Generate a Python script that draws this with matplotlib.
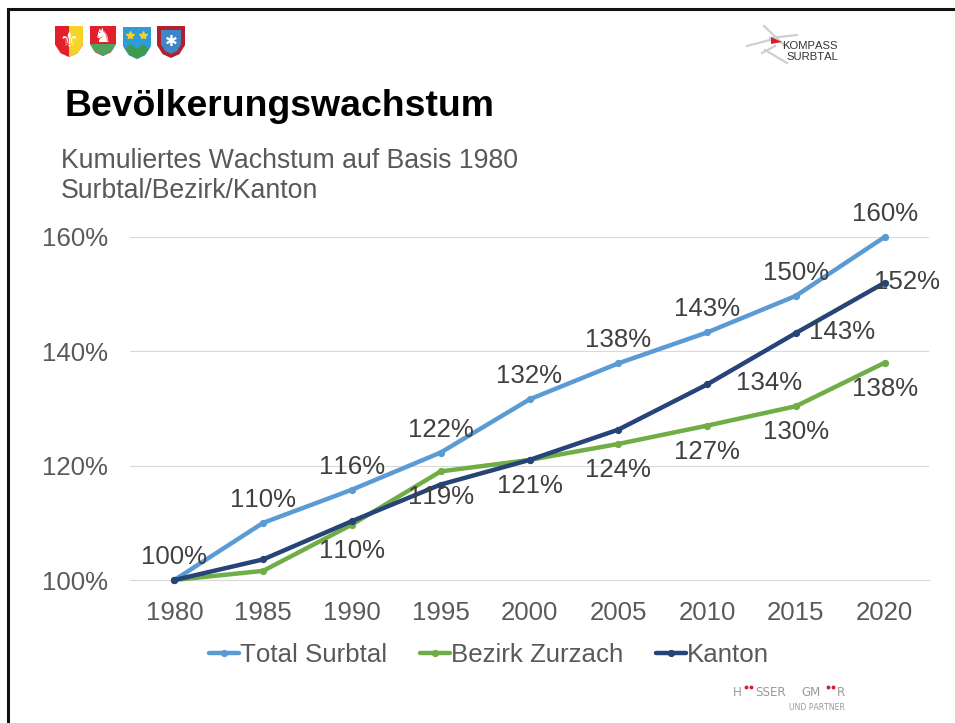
import matplotlib
matplotlib.use("Agg")
import matplotlib.pyplot as plt
from matplotlib.patches import Polygon

plt.rcParams['font.family'] = ['Liberation Sans', 'DejaVu Sans']
plt.rcParams['text.kerning_factor'] = 6

years = ["1980", "1985", "1990", "1995", "2000", "2005", "2010", "2015", "2020"]
total_surbtal = [100, 110, 115.8, 122.3, 131.6, 137.9, 143.3, 149.7, 160]
bezirk_zurzach = [100, 101.6, 109.7, 119, 121, 123.8, 127, 130.4, 138]
kanton = [100, 103.6, 110.3, 116.7, 121, 126.3, 134.2, 143.2, 152]

total_labels = ["100%", "110%", "116%", "122%", "132%", "138%", "143%", "150%", "160%"]
bezirk_labels = ["", "", "110%", "119%", "121%", "124%", "127%", "130%", "138%"]
kanton_labels = ["", "", "", "", "", "", "134%", "143%", "152%"]
y_ticks = [100, 120, 140, 160]

W, H = 955, 723
GREY = "#595959"
LABEL = "#404040"
BLUE = "#5B9BD5"
GREEN = "#70AD47"
NAVY = "#264478"
FS = 18.6


def add_axes_px(fig, left, top, right, bottom):
    return fig.add_axes([left / W, 1 - bottom / H, (right - left) / W, (bottom - top) / H])


def shield(bg, x0, y0, w, h, color):
    pts = [(x0, y0), (x0 + w, y0), (x0 + w, y0 + h * 0.6), (x0 + w * 0.8, y0 + h * 0.88),
           (x0 + w * 0.5, y0 + h), (x0 + w * 0.2, y0 + h * 0.88), (x0, y0 + h * 0.6)]
    bg.add_patch(Polygon(pts, closed=True, facecolor=color, edgecolor="none"))


fig = plt.figure(figsize=(W / 100, H / 100), dpi=100, facecolor="white")

# background layer in pixel coordinates: frame, logos, texts
bg = fig.add_axes([0, 0, 1, 1])
bg.set_xlim(0, W)
bg.set_ylim(H, 0)
bg.axis("off")
bg.plot([8, 8, W], [H, 9, 9], color="#111111", lw=2.2, solid_joinstyle="miter")

# coats of arms
shield(bg, 55, 26, 28, 31, "#E2202C")
bg.add_patch(Polygon([(69, 26), (83, 26), (83, 44), (78, 53), (69, 57)], facecolor="#F5D327"))
bg.text(69, 41, "⚜", color="white", fontsize=15, ha="center", va="center", family="DejaVu Sans")
shield(bg, 90, 26, 26, 30, "#E2202C")
bg.add_patch(Polygon([(90, 44), (116, 44), (112, 51), (103, 56), (94, 51)], facecolor="#4FA35E"))
bg.text(103, 36, "♞", color="white", fontsize=14, ha="center", va="center", family="DejaVu Sans")
shield(bg, 123, 27, 28, 32, "#2F9BD8")
bg.add_patch(Polygon([(125, 49), (131, 44), (137, 49), (143, 44), (149, 49), (144, 55), (137, 59), (130, 55)],
                     facecolor="#3F9A4C"))
bg.plot([130, 143], [35, 35], ls="none", marker="*", ms=6, color="#F5D327")
shield(bg, 157, 26, 28, 32, "#B21F2D")
shield(bg, 161, 30, 20, 24, "#3F86C6")
bg.text(171, 41, "✱", color="white", fontsize=11, ha="center", va="center", family="DejaVu Sans")

# Kompass logo
for seg in [((747, 46), (770, 40)), ((764, 26), (785, 46)), ((765, 50), (787, 63)),
            ((770, 38), (797, 35)), ((762, 53), (775, 46))]:
    bg.plot([seg[0][0], seg[1][0]], [seg[0][1], seg[1][1]], color="#CFCFCF", lw=1.6, zorder=1)
bg.add_patch(Polygon([(771, 37), (782, 42), (771, 44)], facecolor="#D5202E", zorder=2))
bg.text(782, 46, "KOMPASS", fontsize=8.1, color="#333333", ha="left", va="center", zorder=3)
bg.text(786, 57, "SURBTAL", fontsize=8.1, color="#333333", ha="left", va="center", zorder=3)

bg.text(64.5, 106, "Bevölkerungswachstum", fontsize=26.9, fontweight="bold", color="black",
        ha="left", va="center")
bg.text(61, 161, "Kumuliertes Wachstum auf Basis 1980", fontsize=19.2, color=GREY, ha="left", va="center")
bg.text(61, 191, "Surbtal/Bezirk/Kanton", fontsize=19.2, color=GREY, ha="left", va="center")

# Hässer Gmür logo
for txt, xp in [("H", 733), ("SSER", 755), ("GM", 801), ("R", 837)]:
    bg.text(xp, 692, txt, fontsize=8.6, color="#9A9A9A", ha="left", va="center", family="DejaVu Sans")
bg.plot([746, 751, 828, 833], [687, 687, 687, 687], ls="none", marker="o", ms=1.8, color="#D5202E")
bg.text(845, 708, "UND PARTNER", fontsize=5.6, color="#9A9A9A", ha="right", va="center", family="DejaVu Sans")

# chart
ax = add_axes_px(fig, 130, 237, 929, 580)
ax.patch.set_alpha(0)
x = list(range(len(years)))
series = [
    (total_surbtal, BLUE, "Total Surbtal"),
    (bezirk_zurzach, GREEN, "Bezirk Zurzach"),
    (kanton, NAVY, "Kanton"),
]
for vals, col, name in series:
    ax.plot(x, vals, color=col, lw=3.2, marker="o", ms=4.2, label=name, solid_capstyle="round", clip_on=False, zorder=3)

ax.set_xlim(-0.5, 8.5)
ax.set_ylim(100, 160)
ax.set_xticks(x, years)
ax.set_yticks(y_ticks, [f"{v}%" for v in y_ticks])
ax.tick_params(length=0, labelsize=FS, labelcolor=GREY)
ax.tick_params(axis="x", pad=15)
ax.tick_params(axis="y", pad=16)
ax.yaxis.grid(True, color="#D9D9D9", lw=0.8)
ax.set_axisbelow(True)
for s in ["top", "right", "left"]:
    ax.spines[s].set_visible(False)
ax.spines["bottom"].set_color("#D9D9D9")
ax.spines["bottom"].set_linewidth(0.8)


def put_labels(vals, labels, dx_px, dy_px):
    for i, (v, t) in enumerate(zip(vals, labels)):
        if t:
            dx = dx_px[i] if isinstance(dx_px, list) else dx_px
            ax.annotate(t, (i, v), xytext=(dx * 0.72, dy_px * 0.72), textcoords="offset points",
                        ha="center", va="center", fontsize=FS, color=LABEL, zorder=5, annotation_clip=False)


put_labels(total_surbtal, total_labels, 0, 23)
put_labels(bezirk_zurzach, bezirk_labels, 0, -26)
put_labels(kanton, kanton_labels, [0, 0, 0, 0, 0, 0, 62, 46, 22], 1)

leg = ax.legend(loc="center", bbox_to_anchor=(359 / 799, (580 - 655) / 343), ncol=3, frameon=False,
                fontsize=FS, labelcolor=GREY, handlelength=1.15, handletextpad=0.05, columnspacing=1.27)

fig.savefig("out.png", dpi=100)
